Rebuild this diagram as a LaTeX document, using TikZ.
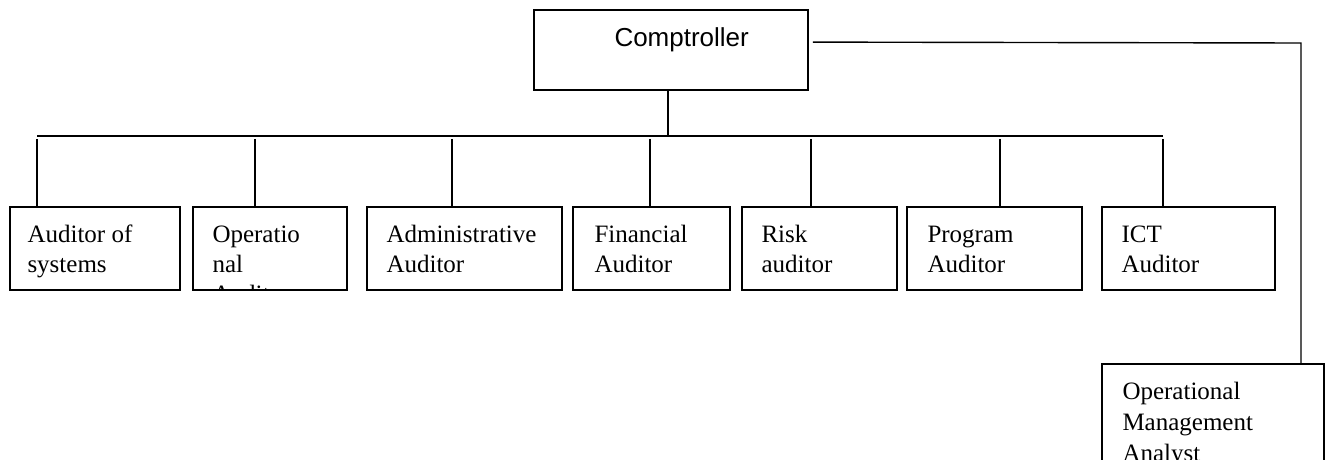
\documentclass[tikz,border=0pt]{standalone}
\usepackage{fontspec}
\setmainfont{Liberation Serif}
\newfontfamily\arialfont{Liberation Sans}
\usepackage{tikz}
\usetikzlibrary{positioning}

\tikzset{
	posbox/.style={shape=rectangle, draw, line width=0.9pt, inner sep=0, minimum height=41.5pt},
	postext/.style={anchor=north west, inner sep=0, align=left, font=\fontsize{12.5pt}{15pt}\selectfont},
	wire/.style={line width=0.7pt}
}

\begin{document}
\begin{tikzpicture}[x=0.5pt, y=-0.5pt]
	\useasboundingbox (0, 0) rectangle (1328, 460);
	\clip (0, 0) rectangle (1328, 460);
	% Boxes and texts (first line strut: top 10.5pt above the baseline):
	\node[posbox, minimum width=137pt, minimum height=40pt](Rect0) at (671, 50){} node[anchor=base west, inner sep=0, font=\arialfont\fontsize{13pt}{15pt}\selectfont] at ([xshift=40.5pt, yshift=-18.5pt]Rect0.north west){Comptroller};
	\node[posbox, minimum width=85pt](Rect1) at (95, 248.5){} node[postext] at ([xshift=9pt, yshift=-7.5pt]Rect1.north west){\strut Auditor of\\systems};
	\node[posbox, minimum width=77pt](Rect2) at (270, 248.5){};
	\begin{scope}
		\clip (Rect2.south west) rectangle (Rect2.north east);
		\node[postext] at ([xshift=10pt, yshift=-7.5pt]Rect2.north west){\strut Operatio\\nal\\Auditor};
	\end{scope}
	\node[posbox, minimum width=97.5pt](Rect3) at (464.5, 248.5){} node[postext] at ([xshift=10pt, yshift=-7.5pt]Rect3.north west){\strut Administrative\\Auditor};
	\node[posbox, minimum width=78.5pt](Rect4) at (651.5, 248.5){} node[postext] at ([xshift=11pt, yshift=-7.5pt]Rect4.north west){\strut Financial\\Auditor};
	\node[posbox, minimum width=77.5pt](Rect5) at (819.5, 248.5){} node[postext] at ([xshift=10pt, yshift=-7.5pt]Rect5.north west){\strut Risk\\auditor};
	\node[posbox, minimum width=87.5pt](Rect6) at (994.5, 248.5){} node[postext] at ([xshift=10.5pt, yshift=-7.5pt]Rect6.north west){\strut Program\\Auditor};
	\node[posbox, minimum width=86.5pt](Rect7) at (1188.5, 248.5){} node[postext] at ([xshift=10pt, yshift=-7.5pt]Rect7.north west){\strut ICT\\Auditor};
	\node[posbox, minimum width=111pt, minimum height=58pt](Rect8) at (1213, 422){} node[postext, font=\fontsize{12.5pt}{15.5pt}\selectfont] at ([xshift=10.5pt, yshift=-7.15pt]Rect8.north west){\strut Operational\\Management\\Analyst};
	% Wires:
	\coordinate (B1) at (37, 136);
	\coordinate (B2) at (255, 136);
	\coordinate (B3) at (452, 136);
	\coordinate (B4) at (650, 136);
	\coordinate (B5) at (811, 136);
	\coordinate (B6) at (1000, 136);
	\coordinate (B7) at (1163, 136);
	\coordinate (R1) at (1301, 43);
	\draw[wire] (B1) -- (B7);
	\draw[wire] ([xshift=-1.5pt]Rect0.south) -- ([xshift=-1.5pt]Rect0.south |- B1);
	\foreach \i in {1,...,7}
		\draw[wire] ([yshift=-1.5pt]B\i) -- (B\i |- Rect\i.north);
	\draw[wire] ([shift={(4, 33)}]Rect0.north east) -- (R1) -- (R1 |- Rect8.north);
\end{tikzpicture}
\end{document}
